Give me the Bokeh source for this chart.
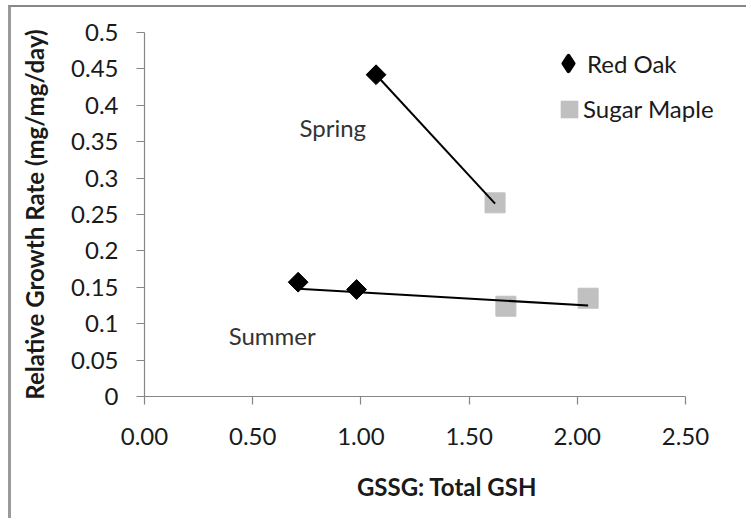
from bokeh.plotting import figure
from bokeh.models import ColumnDataSource, FixedTicker, Legend, LegendItem, Range1d
from bokeh.core.properties import value
from bokeh.embed import file_html
from bokeh.resources import INLINE
import math

# ---- data ----
red_oak_x = [1.07, 0.71, 0.98]
red_oak_y = [0.442, 0.157, 0.147]
sugar_maple_x = [1.62, 1.67, 2.05]
sugar_maple_y = [0.266, 0.124, 0.135]

spring_trend_x = [1.07, 1.62]
spring_trend_y = [0.442, 0.265]
summer_trend_x = [0.71, 2.05]
summer_trend_y = [0.148, 0.125]

season_labels = ["Spring", "Summer"]
season_label_x = [0.87, 0.59]
season_label_y = [0.369, 0.084]

x_ticks = [0, 0.5, 1.0, 1.5, 2.0, 2.5]
x_tick_labels = ["0.00", "0.50", "1.00", "1.50", "2.00", "2.50"]
y_ticks = [0, 0.05, 0.1, 0.15, 0.2, 0.25, 0.3, 0.35, 0.4, 0.45, 0.5]
y_tick_labels = ["0", "0.05", "0.1", "0.15", "0.2", "0.25", "0.3", "0.35", "0.4", "0.45", "0.5"]

FONT = "Lato"
FS = "24px"
AXIS_COLOR = "#868686"
TEXT_COLOR = "#1a1a1a"

# layout (pixels)
W, H = 738, 513
LEFT, TOP = 133, 25
AXIS_PX = 541                 # pixel length of the 0..2.5 axis
FRAME_PX = W - LEFT           # frame runs to the canvas edge so the legend is not clipped
X_END = x_ticks[-1] * FRAME_PX / AXIS_PX

p = figure(width=W, height=H, output_backend="svg", toolbar_location=None,
           x_range=Range1d(0, X_END), y_range=Range1d(0, 0.5),
           min_border_left=LEFT, min_border_right=0, min_border_top=TOP,
           min_border_bottom=H - TOP - 364)
p.styles = {"margin-left": "8px", "margin-top": "5px",
            "border-top": "2px solid #878787", "border-left": "3px solid #9a9a9a"}
p.outline_line_color = None
p.xgrid.visible = False
p.ygrid.visible = False
p.background_fill_color = "white"
p.border_fill_color = "white"

for ax in (p.xaxis[0], p.yaxis[0]):
    ax.axis_line_color = AXIS_COLOR
    ax.axis_line_width = 1.2
    ax.major_tick_line_color = AXIS_COLOR
    ax.major_tick_line_width = 1.2
    ax.major_tick_in = 0
    ax.major_tick_out = 8
    ax.minor_tick_line_color = None
    ax.major_label_text_font = FONT
    ax.major_label_text_font_size = FS
    ax.major_label_text_color = TEXT_COLOR
    ax.axis_label_text_font = FONT
    ax.axis_label_text_font_size = FS
    ax.axis_label_text_font_style = "bold"
    ax.axis_label_text_color = TEXT_COLOR

p.xaxis.bounds = (x_ticks[0], x_ticks[-1])
p.xaxis.ticker = FixedTicker(ticks=x_ticks)
p.xaxis.major_label_overrides = dict(zip(x_ticks, x_tick_labels))
p.yaxis.ticker = FixedTicker(ticks=y_ticks)
p.yaxis.major_label_overrides = dict(zip(y_ticks, y_tick_labels))
p.xaxis.axis_label = "GSSG: Total GSH"
p.yaxis.axis_label = "Relative Growth Rate (mg/mg/day)"
p.xaxis.major_label_standoff = 23
p.yaxis.major_label_standoff = 18
p.xaxis.axis_label_standoff = 24
p.yaxis.axis_label_standoff = 19

oak_src = ColumnDataSource(dict(x=red_oak_x, y=red_oak_y))
maple_src = ColumnDataSource(dict(x=sugar_maple_x, y=sugar_maple_y))

p.scatter("x", "y", source=maple_src, marker="square", size=20,
          fill_color="#c0c0c0", line_color="#c0c0c0")
p.scatter("x", "y", source=oak_src, marker="square", angle=math.pi / 4, size=14,
          fill_color="black", line_color="black")

p.line(spring_trend_x, spring_trend_y, line_color="black", line_width=2)
p.line(summer_trend_x, summer_trend_y, line_color="black", line_width=2)

p.text(x=season_label_x, y=season_label_y, text=season_labels,
       text_font=value(FONT), text_font_size=FS, text_color="#333333",
       text_align="center", text_baseline="middle")

# legend swatches: zero-size glyphs on the same data (the legend sizes its own swatch)
oak_key = p.scatter("x", "y", source=oak_src, marker="diamond", size=0,
                    fill_color="black", line_color="black", line_width=4, line_join="round")
maple_key = p.rect("x", "y", width=0, height=0, source=maple_src,
                   fill_color="#c0c0c0", line_color=None)

leg1 = Legend(items=[LegendItem(label="Red Oak", renderers=[oak_key])],
              location=(405, 314), glyph_width=38, glyph_height=38, padding=0, margin=0,
              label_standoff=0, border_line_color=None, background_fill_alpha=0,
              label_text_font=FONT, label_text_font_size=FS, label_text_color=TEXT_COLOR)
leg2 = Legend(items=[LegendItem(label="Sugar Maple", renderers=[maple_key])],
              location=(414, 273), glyph_width=22, glyph_height=22, padding=0, margin=0,
              label_standoff=3, border_line_color=None, background_fill_alpha=0,
              label_text_font=FONT, label_text_font_size=FS, label_text_color=TEXT_COLOR)
p.add_layout(leg1, "center")
p.add_layout(leg2, "center")

open("out.html", "w").write(file_html(p, INLINE))
